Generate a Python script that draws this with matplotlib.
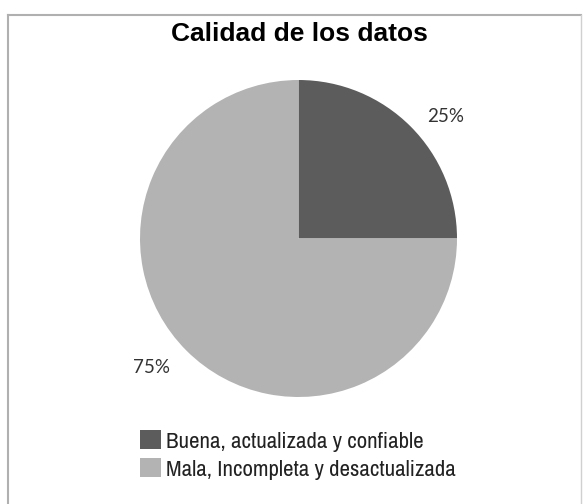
import numpy as np
import matplotlib.pyplot as plt
from matplotlib.patches import Patch
from matplotlib.lines import Line2D

categories = ["Buena, actualizada y confiable", "Mala, Incompleta y desactualizada"]
values = [25, 75]
colors = ["#5c5c5c", "#b3b3b3"]

narrow = ["Archivo Narrow", "Liberation Sans", "DejaVu Sans"]

fig = plt.figure(figsize=(5.83, 5.04), dpi=100)
fig.patch.set_facecolor("white")

# frame around the chart (bottom edge is cut off in the reference)
fig.add_artist(Line2D([8 / 583, 8 / 583], [0, 1 - 15 / 504], color="#b0b0b0", lw=1.5))
fig.add_artist(Line2D([8 / 583, 581 / 583], [1 - 15 / 504, 1 - 15 / 504], color="#b0b0b0", lw=1.5))
fig.add_artist(Line2D([581 / 583, 581 / 583], [0, 1 - 15 / 504], color="#d0d0d0", lw=1.0))

ax = fig.add_axes([140 / 583, 107 / 504, 317 / 583, 317 / 504])
wedges, texts, autotexts = ax.pie(
    values,
    colors=colors,
    startangle=90,
    counterclock=False,
    autopct="%d%%",
    textprops={"fontsize": 13.5, "family": ["Lato", "DejaVu Sans"], "color": "#333333"},
)
# excel puts the labels a little clockwise of the slice middle
for w, t in zip(wedges, autotexts):
    ang = np.deg2rad((w.theta1 + w.theta2) / 2 - 4.5)
    t.set_position((1.22 * np.cos(ang), 1.22 * np.sin(ang) - 0.02))
ax.set_xlim(-1, 1)
ax.set_ylim(-1, 1)
ax.set_aspect("equal")
ax.axis("off")

# no bold narrow face installed, the regular sans bold is close in width
fig.text(299 / 583, 1 - 34 / 504, "Calidad de los datos", ha="center", va="center",
         fontsize=19, fontweight="bold", family=["Liberation Sans", "DejaVu Sans"])

handles = [Patch(facecolor=c, edgecolor="none") for c in colors]
fig.legend(handles, categories, loc="upper left", bbox_to_anchor=(131 / 583, 1 - 421 / 504),
           frameon=False, prop={"family": narrow, "size": 16.5},
           handlelength=0.9, handleheight=0.9, handletextpad=0.22, labelspacing=0.3,
           borderaxespad=0, labelcolor="#222222")

fig.savefig("out.png", dpi=100)
